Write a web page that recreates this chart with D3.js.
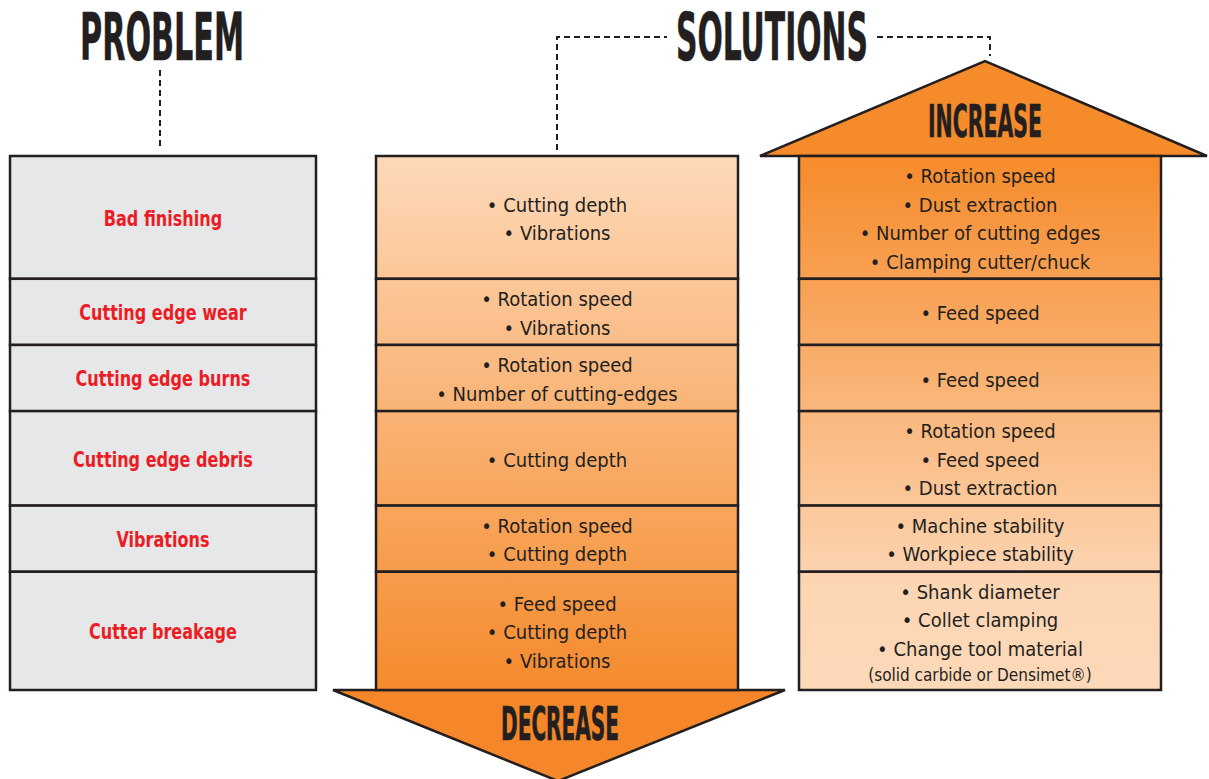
<!DOCTYPE html>
<html><head><meta charset="utf-8">
<script src="https://cdn.jsdelivr.net/npm/d3@7"></script>
<style>body{margin:0;background:#fff}svg{display:block}</style>
</head><body>
<svg id="c" width="1209" height="779"></svg>
<script>
const problems = ["Bad finishing","Cutting edge wear","Cutting edge burns","Cutting edge debris","Vibrations","Cutter breakage"];
const decrease = [
  ["Cutting depth","Vibrations"],
  ["Rotation speed","Vibrations"],
  ["Rotation speed","Number of cutting-edges"],
  ["Cutting depth"],
  ["Rotation speed","Cutting depth"],
  ["Feed speed","Cutting depth","Vibrations"]
];
const increase = [
  ["Rotation speed","Dust extraction","Number of cutting edges","Clamping cutter/chuck"],
  ["Feed speed"],
  ["Feed speed"],
  ["Rotation speed","Feed speed","Dust extraction"],
  ["Machine stability","Workpiece stability"],
  ["Shank diameter","Collet clamping","Change tool material"]
];
const increaseNotes = ["","","","","","(solid carbide or Densimet®)"];
const headers = {problem:"PROBLEM", solutions:"SOLUTIONS", up:"INCREASE", down:"DECREASE"};

const svg = d3.select("#c");
const ink = "#231f20";
const titleFont = "'Liberation Sans Narrow','DejaVu Sans Condensed',sans-serif";
const bodyFont = "'Liberation Sans Narrow','DejaVu Sans Condensed',sans-serif";

// row layout: height from the number of text lines in each row
const LH = 28.6, NOTE = 24, PAD = 9.6;
const rowH = problems.map((p,i)=>{
  const n = Math.max(decrease[i].length, increase[i].length + (increaseNotes[i]?NOTE/LH:0));
  return n*LH + PAD;
});
const cum = [0]; rowH.forEach(h=>cum.push(cum[cum.length-1]+h));
const y = d3.scaleLinear().domain([0, cum[cum.length-1]]).range([156, 690]);
const rows = problems.map((p,i)=>({i, y0:y(cum[i]), y1:y(cum[i+1])}));

const cols = {prob:[10,316], dec:[376,738], inc:[799,1161]};

// gradients
const defs = svg.append("defs");
function grad(id, stops){
  const g = defs.append("linearGradient").attr("id",id).attr("gradientUnits","userSpaceOnUse")
    .attr("x1",0).attr("x2",0).attr("y1",156).attr("y2",690);
  stops.forEach(s=>g.append("stop").attr("offset",s[0]).attr("stop-color",s[1]));
}
grad("gDec",[[0,"#fdd9b9"],[1,"#f58a2c"]]);
grad("gInc",[[0,"#f68b2b"],[0.8,"#fcd5b3"],[1,"#fdd9b9"]]);

// arrows
svg.append("path").attr("d",d3.line()([[760,156],[985,61],[1207,156]])+"Z").attr("fill","#f68b2b").attr("stroke",ink).attr("stroke-width",2.5);
svg.append("path").attr("d",d3.line()([[333,690],[785,690],[558,781]])+"Z").attr("fill","#f5872a").attr("stroke",ink).attr("stroke-width",2.5);

// columns
function column(x, fill){
  svg.append("g").selectAll("rect").data(rows).join("rect")
    .attr("x",x[0]).attr("width",x[1]-x[0])
    .attr("y",d=>d.y0).attr("height",d=>d.y1-d.y0)
    .attr("fill",fill).attr("stroke",ink).attr("stroke-width",2.5);
}
column(cols.prob,"#e6e7e8");
column(cols.dec,"url(#gDec)");
column(cols.inc,"url(#gInc)");

// problem labels (condensed to match the narrow bold face)
svg.append("g").selectAll("text").data(rows).join("text")
  .attr("x",(cols.prob[0]+cols.prob[1])/2).attr("y",d=>(d.y0+d.y1)/2+1)
  .attr("dy","0.35em").attr("text-anchor","middle")
  .attr("font-family",bodyFont).attr("font-weight","bold").attr("font-size",21)
  .attr("fill","#ec1c24").text(d=>problems[d.i])
  .each(function(){
    const L = this.getComputedTextLength();
    d3.select(this).attr("textLength",L*0.85).attr("lengthAdjust","spacingAndGlyphs");
  });

function lines(x, lists, notes){
  const g = svg.append("g");
  rows.forEach(r=>{
    const items = lists[r.i].map(t=>({t:"•  "+t, size:20, h:LH}));
    if(notes && notes[r.i]) items.push({t:notes[r.i], size:17, h:NOTE});
    const tot = d3.sum(items,d=>d.h);
    let cy = (r.y0+r.y1)/2 - tot/2 + 1.5;
    items.forEach(it=>{
      g.append("text").attr("x",(x[0]+x[1])/2).attr("y",cy+it.h/2).attr("dy","0.35em")
        .attr("text-anchor","middle").attr("font-family",bodyFont).attr("font-size",it.size)
        .attr("fill",ink).text(it.t);
      cy += it.h;
    });
  });
}
lines(cols.dec, decrease);
lines(cols.inc, increase, increaseNotes);

// headings
function heading(t, cx, base, w, size){
  svg.append("text").attr("x",cx).attr("y",base).attr("text-anchor","middle")
    .attr("font-family",titleFont).attr("font-weight","bold").attr("font-size",size)
    .attr("textLength",w).attr("lengthAdjust","spacingAndGlyphs").attr("fill",ink)
    .attr("stroke",ink).attr("stroke-width",0.6).text(t);
}
heading(headers.problem,162,60,164,66);
heading(headers.solutions,772,60,192,66);
heading(headers.up,985,137,114,44);
heading(headers.down,560,740,118,46);

// dashed connectors
const dash = g=>g.attr("fill","none").attr("stroke",ink).attr("stroke-width",2).attr("stroke-dasharray","6,4");
svg.append("path").attr("d","M160,70V148").call(dash);
svg.append("path").attr("d","M557,150V37H667").call(dash);
svg.append("path").attr("d","M877,37H990V56").call(dash);
</script>
</body></html>
